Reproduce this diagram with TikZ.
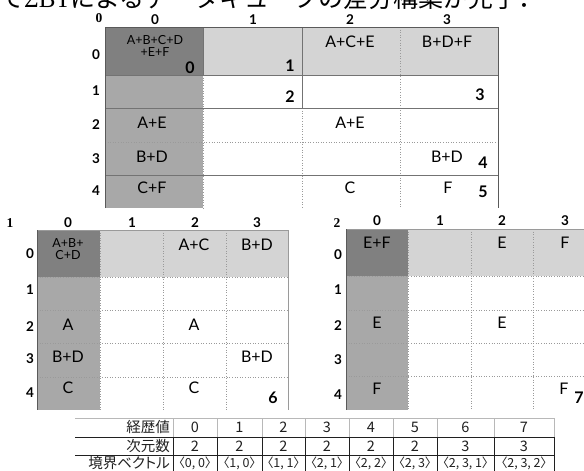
\documentclass[tikz,border=0pt]{standalone}
\usepackage{fontspec}
\newfontfamily\gs{Lato}
\newfontfamily\tms{Liberation Serif}
\newfontfamily\jp{Noto Sans CJK JP}
\newfontfamily\jpp[RawFeature=+palt]{Noto Sans CJK JP}
\definecolor{cdark}{HTML}{808080}
\definecolor{cmid}{HTML}{A8A8A8}
\definecolor{clight}{HTML}{D4D4D4}
\definecolor{cline}{HTML}{5A5A5A}
\definecolor{cdot}{HTML}{9A9A9A}
\definecolor{ctab}{HTML}{202020}
\tikzset{
 frame/.style={draw=cline,line width=0.9pt},
 solidin/.style={draw=cline!85,line width=0.8pt},
 lightin/.style={draw=cdot,line width=0.7pt},
 dotin/.style={draw=cdot,line width=0.6pt,dotted},
 hdr/.style={font=\tms\bfseries\fontsize{13.5}{13.5}\selectfont,inner sep=0pt},
 lbl/.style={font=\gs\bfseries\fontsize{13.5}{13.5}\selectfont,inner sep=0pt},
 cell/.style={font=\gs\fontsize{16}{16}\selectfont,inner sep=0pt},
 smallcell/.style={font=\gs\fontsize{12.5}{12.5}\selectfont,inner sep=0pt,align=center},
 idx/.style={font=\gs\bfseries\fontsize{16}{16}\selectfont,inner sep=0pt},
 tab/.style={font=\jpp\fontsize{14.5}{14.5}\selectfont,inner sep=0pt,text=ctab},
 tabvec/.style={font=\jpp\fontsize{12.5}{12.5}\selectfont,inner sep=0pt,text=ctab},
 tabline/.style={draw=ctab,line width=0.8pt},
 tablight/.style={draw=cdot!70,line width=0.7pt},
}
\begin{document}
\begin{tikzpicture}[x=1pt,y=-1pt]
\useasboundingbox (0,0) rectangle (584,471);
\clip (0,0) rectangle (584,471);

% title line (cut off at the top, as in the reference)
\node[anchor=base west,inner sep=0pt,font=\jp\fontsize{25}{25}\selectfont] (title) at (-1,7)
  {て{\tms ΣBT}によるデータキューブの差分構築が完了．};

% ================= grid 0 (top) =================
\fill[cdark] (105,27) rectangle (203,75);
\fill[cmid] (105,75) rectangle (203,208);
\fill[clight] (203,27) rectangle (498,75);
\draw[dotin] (203,75) -- (203,208);
\draw[dotin] (302,108) -- (302,208);
\draw[dotin] (400,27) -- (400,208);
\draw[dotin] (105,142) -- (498,142);
\draw[solidin] (105,75) -- (498,75);
\draw[solidin] (105,108) -- (498,108);
\draw[solidin] (105,175) -- (498,175);
\draw[solidin] (203,27) -- (203,75);
\draw[solidin] (302,27) -- (302,108);
\draw[frame] (105,208) -- (105,27) -- (498,27) -- (498,208);

\node[hdr] (g0) at (99,18) {0};
\node[lbl] (g0c0) at (155,20) {0};
\node[lbl] (g0c1) at (253,20) {1};
\node[lbl] (g0c2) at (350,20) {2};
\node[lbl] (g0c3) at (447,20) {3};
\node[lbl] (g0r0) at (96,55) {0};
\node[lbl] (g0r1) at (96,91) {1};
\node[lbl] (g0r2) at (96,125) {2};
\node[lbl] (g0r3) at (96,159) {3};
\node[lbl] (g0r4) at (96,191) {4};

\node[smallcell] (t00) at (155,46) {A+B+C+D\\+E+F};
\node[cell] (t02) at (350,42) {A+C+E};
\node[cell] (t03) at (447,42) {B+D+F};
\node[cell] (t20) at (152,123) {A+E};
\node[cell] (t22) at (350,123) {A+E};
\node[cell] (t30) at (152,157) {B+D};
\node[cell] (t33) at (447,157) {B+D};
\node[cell] (t40) at (152,188) {C+F};
\node[cell] (t42) at (350,188) {C};
\node[cell] (t43) at (448,188) {F};

\node[idx] (n0) at (190,68) {0};
\node[idx] (n1) at (290,66) {1};
\node[idx] (n2) at (290,97) {2};
\node[idx] (n3) at (480,95) {3};
\node[idx] (n4) at (483,163) {4};
\node[idx] (n5) at (483,192) {5};

% ================= grid 1 (bottom left) =================
\fill[cdark] (37,230) rectangle (100,277);
\fill[cmid] (37,277) rectangle (100,410);
\fill[clight] (100,230) rectangle (288,277);
\foreach \yy in {277,310,343,377} \draw[dotin] (37,\yy) -- (288,\yy);
\foreach \xx in {100,163,226} \draw[dotin] (\xx,230) -- (\xx,410);
\draw[lightin] (37,230) -- (288,230) -- (288,410);
\draw[frame] (37,230) -- (37,410);

\node[hdr] (g1) at (10,223) {1};
\node[lbl] (g1c0) at (68,223) {0};
\node[lbl] (g1c1) at (132,223) {1};
\node[lbl] (g1c2) at (195,223) {2};
\node[lbl] (g1c3) at (257,223) {3};
\node[lbl] (g1r0) at (30,254) {0};
\node[lbl] (g1r1) at (30,290) {1};
\node[lbl] (g1r2) at (30,327) {2};
\node[lbl] (g1r3) at (30,359) {3};
\node[lbl] (g1r4) at (30,393) {4};

\node[smallcell] (u00) at (68,249) {A+B+\\C+D};
\node[cell] (u02) at (194,245) {A+C};
\node[cell] (u03) at (257,245) {B+D};
\node[cell] (u20) at (68,325) {A};
\node[cell] (u22) at (194,325) {A};
\node[cell] (u30) at (68,357) {B+D};
\node[cell] (u33) at (257,357) {B+D};
\node[cell] (u40) at (68,388) {C};
\node[cell] (u42) at (194,388) {C};
\node[idx] (n6) at (273,398) {6};

% ================= grid 2 (bottom right) =================
\fill[cdark] (346,229) rectangle (408,276);
\fill[cmid] (346,276) rectangle (408,410);
\fill[clight] (408,229) rectangle (596,276);
\foreach \yy in {276,310,343,376} \draw[dotin] (346,\yy) -- (596,\yy);
\foreach \xx in {408,471,533} \draw[dotin] (\xx,229) -- (\xx,410);
\draw[lightin] (346,229) -- (596,229);
\draw[frame] (346,229) -- (346,410);

\node[hdr] (g2) at (337,223) {2};
\node[lbl] (g2c0) at (377,221) {0};
\node[lbl] (g2c1) at (440,221) {1};
\node[lbl] (g2c2) at (502,221) {2};
\node[lbl] (g2c3) at (565,221) {3};
\node[lbl] (g2r0) at (338,255) {0};
\node[lbl] (g2r1) at (338,290) {1};
\node[lbl] (g2r2) at (338,326) {2};
\node[lbl] (g2r3) at (338,360) {3};
\node[lbl] (g2r4) at (338,395) {4};

\node[cell] (v00) at (377,243) {E+F};
\node[cell] (v02) at (502,243) {E};
\node[cell] (v03) at (565,243) {F};
\node[cell] (v20) at (377,323) {E};
\node[cell] (v22) at (502,323) {E};
\node[cell] (v40) at (377,389) {F};
\node[cell] (v43) at (564,389) {F};
\node[idx] (n7) at (579,398) {7};

% ================= table =================
\draw[tablight] (75,418) -- (554,418);
\foreach \xx in {173,217,262,305,349,393,437,494,554} \draw[tablight] (\xx,418) -- (\xx,437);
\foreach \xx in {173,217,262,305,349,393,437,494,554} \draw[tabline] (\xx,437) -- (\xx,471);
\draw[tabline] (75,437) -- (554,437);
\draw[tabline] (75,455) -- (554,455);

\node[tab,anchor=east] (h1) at (170,427.5) {経歴値};
\node[tab,anchor=east] (h2) at (170,446) {次元数};
\node[tab,anchor=east] (h3) at (170,463.5) {境界ベクトル};

\foreach \cx/\a/\b/\c [count=\i] in {195/0/2/{〈0, 0〉},239.5/1/2/{〈1, 0〉},283.5/2/2/{〈1, 1〉},327/3/2/{〈2, 1〉},371/4/2/{〈2, 2〉},415/5/2/{〈2, 3〉},465.5/6/3/{〈2, 3, 1〉},524/7/3/{〈2, 3, 2〉}} {
  \node[tab] (ka\i) at (\cx,427.5) {\a};
  \node[tab] (kb\i) at (\cx,446) {\b};
  \node[tabvec] (kc\i) at (\cx,463.5) {\c};
}
\end{tikzpicture}
\end{document}
